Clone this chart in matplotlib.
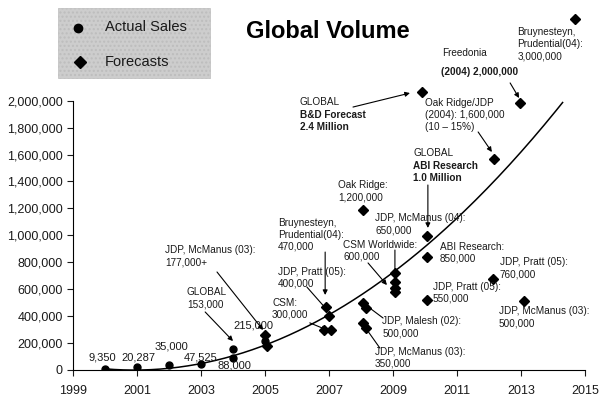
import numpy as np
import matplotlib.pyplot as plt
from matplotlib.patches import Rectangle

plt.rcParams['font.family'] = ['Liberation Sans', 'DejaVu Sans']

# actual sales (circles)
actual_years = [2000, 2001, 2002, 2003, 2004, 2004, 2005]
actual_units = [9350, 20287, 35000, 47525, 88000, 153000, 215000]

# forecasts (diamonds), placed where they sit on the slide
forecast_years = [2005.0, 2005.05, 2006.9, 2007.0, 2006.85, 2007.05, 2008.05, 2008.15,
                  2008.05, 2008.15, 2008.06, 2009.05, 2009.05, 2009.05, 2009.05,
                  2010.06, 2010.06, 2010.06, 2009.9, 2012.16, 2012.13, 2012.97,
                  2013.09, 2014.69]
forecast_units = [260000, 178000, 470000, 400000, 300000, 300000, 500000, 460000,
                  350000, 310000, 1190000, 720000, 650000, 610000, 580000,
                  995000, 840000, 520000, 2065000, 1567000, 674000, 1983000,
                  512000, 2607000]

# points
trend_years = [2000, 2003, 2005, 2007, 2009, 2013, 2014.3]
trend_units = [8000, 50000, 185000, 410000, 720000, 1630000, 1980000]

year_ticks = list(range(1999, 2016, 2))
unit_ticks = list(range(0, 2000001, 200000))

# labels next to actual sales
value_labels = ["9,350", "20,287", "35,000", "47,525", "88,000", "215,000"]
value_pos = [(1999.91, 96000), (2001.03, 96000), (2002.09, 171000),
             (2003.0, 96000), (2004.03, 37000), (2004.63, 334000)]

# (text, text x, text y, arrow start, arrow end, arrow style)
notes = [
    ("GLOBAL\n153,000", 2002.56, 616000, (2003.13, 431000), (2004.0, 215000), '-|>'),
    ("JDP, McManus (03):\n177,000+", 2001.88, 928000, (2003.5, 728000), (2004.94, 297000), '-|>'),
    ("CSM:\n300,000", 2005.22, 535000, (2006.4, 350000), (2006.94, 297000), '-|>'),
    ("JDP, Pratt (05):\n400,000", 2005.41, 765000, (2006.31, 616000), (2006.94, 446000), '-|>'),
    ("Bruynesteyn,\nPrudential(04):\n470,000", 2005.41, 1129000, (2006.88, 876000), (2006.88, 557000), '-|>'),
    ("Oak Ridge:\n1,200,000", 2007.28, 1411000, None, None, None),
    ("JDP, McManus (04):\n650,000", 2008.44, 1166000, (2009.06, 891000), (2009.06, 735000), '-'),
    ("CSM Worldwide:\n600,000", 2007.44, 966000, (2008.22, 795000), (2008.81, 631000), '-|>'),
    ("ABI Research:\n850,000", 2010.47, 951000, None, None, None),
    ("JDP, Pratt (05):\n550,000", 2010.25, 654000, None, None, None),
    ("JDP, Pratt (05):\n760,000", 2012.34, 839000, None, None, None),
    ("JDP, McManus (03):\n500,000", 2012.31, 475000, None, None, None),
    ("JDP, Malesh (02):\n500,000", 2008.66, 401000, (2008.19, 475000), (2008.69, 386000), '-'),
    ("JDP, McManus (03):\n350,000", 2008.44, 171000, (2008.19, 297000), (2008.59, 163000), '-'),
    ("Oak Ridge/JDP\n(2004): 1,600,000\n(10 \u2013 15%)", 2010.0, 2020000, (2011.66, 1768000), (2012.09, 1619000), '-|>'),
    ("Freedonia", 2010.53, 2390000, None, None, None),
    ("Bruynesteyn,\nPrudential(04):\n3,000,000", 2012.88, 2547000, None, None, None),
]

# GLOBAL boxes: plain first line, bold lines below
global_notes = [
    ("GLOBAL", "B&D Forecast\n2.4 Million", 2006.09, 2028000, (2007.75, 1953000), (2009.53, 2057000)),
    ("GLOBAL", "ABI Research\n1.0 Million", 2009.63, 1649000, (2010.09, 1374000), (2010.09, 1055000)),
]

ink = '#1a1a1a'

fig = plt.figure(figsize=(6.03, 3.99), dpi=100)
ax = fig.add_axes([73 / 603, 29 / 399, 512 / 603, 370 / 399])
ax.set_facecolor('none')

coef = np.polyfit(np.array(trend_years) - 2000, trend_units, 2)
xs = np.linspace(2000, 2014.3, 200)
ax.plot(xs, np.polyval(coef, xs - 2000), color='black', lw=1.1, zorder=2)

ax.plot(actual_years, actual_units, 'o', color='black', ms=5, zorder=3)
ax.plot(forecast_years, forecast_units, 'D', color='black', ms=4.6, zorder=3)

for lab, (x, y) in zip(value_labels, value_pos):
    ax.text(x, y, lab, fontsize=8, ha='center', va='center', color=ink)

for txt, x, y, a0, a1, style in notes:
    ax.text(x, y, txt, fontsize=7.2, ha='left', va='top', color=ink, linespacing=1.25)
    if a0 is not None:
        ax.annotate('', xy=a1, xytext=a0,
                    arrowprops=dict(arrowstyle=style, color='black', lw=0.8,
                                    mutation_scale=7, shrinkA=0, shrinkB=0))

for first, rest, x, y, a0, a1 in global_notes:
    ax.text(x, y, first, fontsize=7.2, ha='left', va='top', color=ink)
    ax.text(x, y - 95000, rest, fontsize=7.2, ha='left', va='top', color=ink,
            fontweight='bold', linespacing=1.25)
    ax.annotate('', xy=a1, xytext=a0,
                arrowprops=dict(arrowstyle='-|>', color='black', lw=0.8,
                                mutation_scale=7, shrinkA=0, shrinkB=0))

ax.text(2010.5, 2213000, "(2004) 2,000,000", fontsize=7.2, fontweight='bold',
        ha='left', va='center', color=ink)
ax.annotate('', xy=(2012.94, 2020000), xytext=(2012.66, 2132000),
            arrowprops=dict(arrowstyle='-|>', color='black', lw=0.8,
                            mutation_scale=7, shrinkA=0, shrinkB=0))

ax.set_xlim(1999, 2015)
ax.set_ylim(0, 2.748e6)
ax.set_xticks(year_ticks)
ax.set_yticks(unit_ticks)
ax.set_yticklabels([f"{v:,}" for v in unit_ticks])
ax.tick_params(labelsize=9, length=4, width=0.8, colors=ink)
ax.tick_params(axis='x', pad=7)
ax.spines['top'].set_visible(False)
ax.spines['right'].set_visible(False)
ax.spines['left'].set_bounds(0, 2e6)

# title and grey legend box
fig.text(0.544, 0.92, "Global Volume", fontsize=17, fontweight='bold',
         ha='center', va='center', color='black')
fig.add_artist(Rectangle((58 / 603, 1 - 78 / 399), 152 / 603, 70 / 399,
                         transform=fig.transFigure, facecolor='#cdcdcd',
                         edgecolor='#bdbdbd', lw=0.5, hatch='....'))
fig.lines.append(plt.Line2D([78 / 603], [1 - 28 / 399], marker='o', ms=6,
                            color='black', transform=fig.transFigure))
fig.lines.append(plt.Line2D([80 / 603], [1 - 62 / 399], marker='D', ms=6,
                            color='black', transform=fig.transFigure))
fig.text(105 / 603, 1 - 27 / 399, "Actual Sales", fontsize=10.5, va='center', color=ink)
fig.text(105 / 603, 1 - 62 / 399, "Forecasts", fontsize=10.5, va='center', color=ink)

fig.savefig("out.png", dpi=100)
